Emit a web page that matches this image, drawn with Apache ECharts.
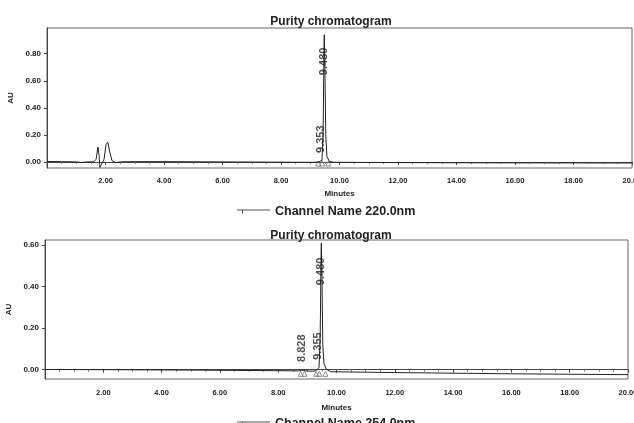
<!DOCTYPE html>
<html>
<head>
<meta charset="utf-8">
<script src="https://cdn.jsdelivr.net/npm/echarts@6/dist/echarts.min.js"></script>
<style>html,body{margin:0;padding:0;background:#fff}#c{width:634px;height:423px}</style>
</head>
<body>
<div id="c"></div>
<script>
// ---- data ----
var titleText = 'Purity chromatogram';
var channel1Name = 'Channel Name 220.0nm';
var channel2Name = 'Channel Name 254.0nm';
var xTickLabels = ['2.00','4.00','6.00','8.00','10.00','12.00','14.00','16.00','18.00','20.00'];
var yTicks1 = [0, 0.2, 0.4, 0.6, 0.8];
var yTicks2 = [0, 0.2, 0.4, 0.6];

// Channel 220 nm trace (minutes, AU)
var ch220Time = [0.00,0.50,1.00,1.20,1.35,1.60,1.68,1.74,1.78,1.81,1.86,1.95,2.02,2.08,2.14,2.22,2.35,2.50,3.00,4.00,6.00,8.00,9.00,9.25,9.33,9.36,9.40,9.44,9.47,9.48,9.50,9.53,9.57,9.65,9.80,12.00,16.00,20.00];
var ch220AU   = [0.003,0.002,0.000,-0.004,0.000,0.001,0.02,0.11,0.05,-0.04,-0.02,0.02,0.13,0.145,0.08,0.01,-0.006,0.000,0.002,0.002,0.000,-0.002,-0.003,-0.002,0.005,0.008,0.010,0.20,0.85,0.94,0.70,0.20,0.04,0.005,-0.003,-0.005,-0.007,-0.008];

// Channel 254 nm trace (minutes, AU)
var ch254Time = [0.00,2.00,5.00,8.00,8.70,8.80,8.83,8.87,9.00,9.25,9.33,9.36,9.40,9.44,9.47,9.48,9.50,9.53,9.57,9.65,9.80,12.00,16.00,20.00];
var ch254AU   = [0.001,0.000,-0.002,-0.005,-0.006,-0.002,0.004,-0.004,-0.007,-0.007,0.000,0.006,0.010,0.15,0.55,0.61,0.45,0.12,0.03,0.002,-0.010,-0.014,-0.020,-0.024];

// Peak labels (retention time, AU of label top)
var peaks220 = ['9.353','9.480'];
var peakTop220 = [0.27, 0.845];
var peaks254 = ['8.828','9.355','9.480'];
var peakTop254 = [0.17, 0.18, 0.54];

// integration marks near baseline (minutes, AU)
var marks220Time = [9.27, 9.41, 9.62];
var marks220AU = [-0.012, -0.012, -0.012];
var marks254Time = [8.77, 8.90, 9.30, 9.41, 9.62];
var marks254AU = [-0.02, -0.02, -0.02, -0.02, -0.02];

function pairs(xs, ys){ return xs.map(function(x,i){ return [x, ys[i]]; }); }
function labelData(names, tops){ return names.map(function(n,i){ return [parseFloat(n), tops[i], n]; }); }

var FONT = 'Liberation Sans, Arial, sans-serif';
var axisTxt = {color:'#222', fontFamily:FONT, fontWeight:'bold'};
function xAxisOpt(gi, margin, gap){
  return {
    type:'value', gridIndex:gi, min:0, max:20, interval:2,
    name:'Minutes', nameLocation:'middle', nameGap:gap,
    nameTextStyle:Object.assign({fontSize:8}, axisTxt),
    axisLine:{lineStyle:{color:'#444', width:1}},
    axisTick:{show:true, length:3, lineStyle:{color:'#444'}},
    minorTick:{show:true, splitNumber:4, length:2, lineStyle:{color:'#777'}},
    axisLabel:Object.assign({fontSize:7.5, margin:margin, showMinLabel:false,
      formatter:function(v){ var s=v.toFixed(2); return xTickLabels.indexOf(s)>=0 ? s : ''; }}, axisTxt),
    splitLine:{show:false}
  };
}
function yAxisOpt(gi, min, max, ticks, gap){
  return {
    type:'value', gridIndex:gi, min:min, max:max,
    name:'AU', nameLocation:'middle', nameGap:gap,
    nameTextStyle:Object.assign({fontSize:8}, axisTxt),
    axisLine:{show:true, lineStyle:{color:'#444', width:1}},
    axisTick:{show:true, length:3, customValues:ticks, lineStyle:{color:'#444'}},
    axisLabel:Object.assign({fontSize:8, margin:6, customValues:ticks,
      formatter:function(v){ return v.toFixed(2); }}, axisTxt),
    splitLine:{show:false}
  };
}
function traceSeries(name, xi, data){
  return {name:name, type:'line', xAxisIndex:xi, yAxisIndex:xi, data:data,
    showSymbol:false, symbol:'none', lineStyle:{color:'#222', width:1}, itemStyle:{color:'#222'},
    animation:false, clip:true, z:3};
}
function labelSeries(xi, data){
  return {type:'scatter', xAxisIndex:xi, yAxisIndex:xi, data:data, symbolSize:0, silent:true, animation:false,
    label:{show:true, position:'inside', rotate:90, align:'right', verticalAlign:'middle',
      formatter:function(p){ return p.value[2]; },
      fontSize:11, fontWeight:'bold', color:'#222', fontFamily:FONT}, z:4};
}
function markSeries(xi, data){
  return {type:'scatter', xAxisIndex:xi, yAxisIndex:xi, data:data, symbol:'triangle', symbolSize:5,
    silent:true, animation:false, itemStyle:{color:'rgba(0,0,0,0)', borderColor:'#777', borderWidth:1}, z:2};
}
var legendIcon = 'path://M0,0h33v1h-33z M5,1h1v3h-1z';
function legendOpt(top, name){
  return {top:top, left:232, data:[name], selectedMode:false, itemWidth:33, itemHeight:4, icon:legendIcon,
    itemStyle:{color:'#555'},
    textStyle:{fontSize:12.5, fontWeight:'bold', color:'#222', fontFamily:FONT}};
}

var chart = echarts.init(document.getElementById('c'), null, {renderer:'canvas'});
chart.setOption({
  backgroundColor:'#fff',
  animation:false,
  title:[
    {text:titleText, left:326, top:11, textAlign:'center', textStyle:{fontSize:12, fontWeight:'bold', color:'#222', fontFamily:FONT}},
    {text:titleText, left:326, top:225, textAlign:'center', textStyle:{fontSize:12, fontWeight:'bold', color:'#222', fontFamily:FONT}}
  ],
  legend:[legendOpt(200, channel1Name), legendOpt(412, channel2Name)],
  grid:[
    {left:47, top:28, width:585, height:140, show:true, borderColor:'#666', borderWidth:1, containLabel:false, outerBoundsMode:'none'},
    {left:45, top:240, width:583, height:139, show:true, borderColor:'#666', borderWidth:1, containLabel:false, outerBoundsMode:'none'}
  ],
  xAxis:[xAxisOpt(0, 9, 22), xAxisOpt(1, 10, 25)],
  yAxis:[yAxisOpt(0, -0.045, 0.99, yTicks1, 32), yAxisOpt(1, -0.045, 0.625, yTicks2, 30)],
  series:[
    traceSeries(channel1Name, 0, pairs(ch220Time, ch220AU)),
    traceSeries(channel2Name, 1, pairs(ch254Time, ch254AU)),
    labelSeries(0, labelData(peaks220, peakTop220)),
    labelSeries(1, labelData(peaks254, peakTop254)),
    markSeries(0, pairs(marks220Time, marks220AU)),
    markSeries(1, pairs(marks254Time, marks254AU))
  ]
});
</script>
</body>
</html>
